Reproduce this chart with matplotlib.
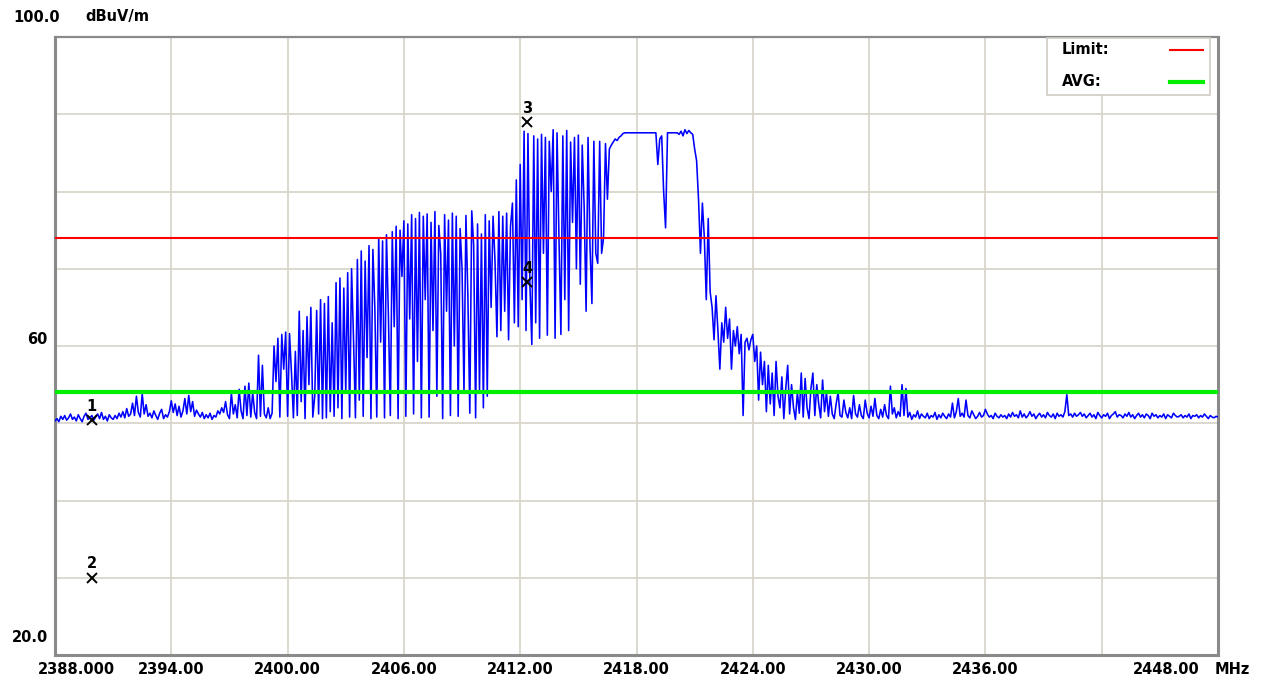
import numpy as np
import matplotlib
matplotlib.use("Agg")
import matplotlib.pyplot as plt
from matplotlib.transforms import ScaledTranslation

# ---------------- data ----------------
freq_start_mhz = 2388.0
freq_step_mhz = 0.1
level_dbuv = [
    50.3, 50.6, 50.2, 50.9, 50.5, 51.0, 50.4, 50.7, 51.2, 50.5,   # 2388
    50.8, 50.3, 51.1, 50.6, 50.2, 50.9, 51.3, 50.5, 50.7, 51.0,   # 2389
    50.4, 50.8, 51.2, 50.6, 51.4, 50.5, 50.9, 50.3, 51.1, 50.7,   # 2390
    50.5, 51.0, 50.6, 51.3, 50.8, 51.5, 50.7, 51.9, 50.9, 51.2,   # 2391
    52.6, 51.0, 53.5, 51.4, 50.8, 53.8, 51.2, 52.4, 50.9, 51.3,   # 2392
    50.7, 51.6, 51.0, 50.5, 51.3, 51.8, 50.6, 51.1, 50.8, 51.5,   # 2393
    52.9, 51.4, 52.5, 51.0, 52.2, 50.8, 51.6, 53.2, 51.2, 53.6,   # 2394
    51.5, 52.8, 50.9, 51.7, 51.2, 50.8, 51.4, 50.6, 51.1, 50.7,   # 2395
    51.3, 50.5, 51.0, 50.8, 51.6, 51.2, 52.0, 51.4, 52.8, 51.1,   # 2396
    50.6, 53.9, 51.2, 52.4, 50.7, 54.4, 51.6, 50.6, 54.8, 51.0,   # 2397
    55.2, 50.8, 54.0, 51.4, 50.6, 58.8, 50.9, 57.5, 51.2, 50.7,   # 2398
    52.0, 50.6, 51.3, 60.0, 55.4, 61.0, 50.8, 61.5, 57.0, 61.8,   # 2399
    50.9, 61.6, 56.5, 50.7, 59.3, 51.0, 64.5, 52.8, 62.0, 50.6,   # 2400
    63.8, 55.0, 65.0, 50.8, 53.5, 64.6, 51.2, 66.0, 50.6, 65.5,   # 2401
    50.7, 66.4, 51.5, 63.0, 50.9, 68.2, 52.0, 68.8, 50.6, 67.5,   # 2402
    54.0, 69.5, 50.8, 70.0, 61.0, 50.7, 71.2, 53.0, 72.3, 50.9,   # 2403
    71.0, 58.5, 73.0, 50.6, 72.5, 65.0, 50.8, 74.0, 60.5, 73.6,   # 2404
    50.7, 74.4, 64.0, 51.0, 74.8, 62.5, 75.5, 50.6, 75.0, 69.0,   # 2405
    76.2, 50.9, 75.8, 63.5, 77.0, 51.2, 76.5, 58.0, 77.3, 50.7,   # 2406
    76.8, 66.0, 77.1, 50.8, 76.0, 62.0, 77.4, 53.5, 75.6, 72.0,   # 2407
    50.6, 77.0, 64.5, 76.3, 51.0, 77.2, 60.0, 76.8, 50.9, 75.2,   # 2408
    70.0, 54.0, 76.9, 66.5, 51.3, 77.5, 73.0, 50.7, 75.8, 54.2,   # 2409
    74.5, 52.0, 77.0, 53.5, 76.2, 65.0, 76.8, 71.0, 61.2, 77.4,   # 2410
    62.0, 76.8, 64.5, 77.2, 60.8, 75.5, 78.5, 63.0, 81.5, 62.5,   # 2411
    83.5, 66.0, 87.8, 62.0, 87.5, 68.0, 60.2, 87.2, 63.0, 86.8,   # 2412
    61.0, 87.4, 72.0, 87.0, 61.4, 86.5, 80.0, 88.0, 61.0, 87.6,   # 2413
    74.0, 61.5, 87.2, 66.0, 87.9, 62.0, 86.4, 76.0, 87.0, 70.0,   # 2414
    87.3, 68.0, 86.0, 78.0, 64.5, 87.0, 73.0, 65.5, 86.5, 72.0,   # 2415
    70.7, 86.5, 72.0, 74.0, 86.2, 79.0, 85.5, 86.0, 86.4, 86.8,   # 2416
    86.6, 87.0, 87.2, 87.5, 87.6, 87.6, 87.6, 87.6, 87.6, 87.6,   # 2417
    87.6, 87.6, 87.6, 87.6, 87.6, 87.6, 87.6, 87.6, 87.6, 87.6,   # 2418
    87.6, 83.5, 86.8, 87.2, 80.0, 75.3, 87.6, 87.6, 87.6, 87.6,   # 2419
    87.6, 87.6, 87.4, 87.8, 87.2, 88.0, 87.5, 87.9, 87.6, 87.4,   # 2420
    85.5, 84.0, 79.0, 72.0, 78.5, 74.0, 66.0, 76.5, 67.0, 65.0,   # 2421
    60.8, 66.5, 62.0, 57.0, 63.0, 60.5, 65.0, 61.0, 63.5, 57.0,   # 2422
    62.0, 60.0, 62.5, 59.0, 61.5, 51.0, 60.5, 61.0, 59.5, 60.8,   # 2423
    61.5, 58.0, 60.0, 53.0, 59.2, 55.0, 58.0, 51.5, 57.5, 52.5,   # 2424
    56.5, 51.0, 58.0, 53.5, 52.0, 56.0, 50.6, 54.5, 57.5, 51.2,   # 2425
    55.0, 52.0, 50.5, 54.0, 51.3, 56.5, 50.8, 55.8, 52.0, 50.6,   # 2426
    54.5, 56.5, 51.0, 55.0, 52.5, 50.7, 55.6, 51.5, 54.0, 50.9,   # 2427
    53.5, 51.2, 50.6, 52.5, 54.0, 51.0, 50.8, 53.0, 51.4, 50.7,   # 2428
    52.0, 50.6, 53.6, 51.2, 50.8, 52.4, 51.0, 50.6, 53.0, 51.3,   # 2429
    50.7, 52.2, 50.9, 53.2, 51.0, 50.6, 51.8, 50.8, 52.4, 51.0,   # 2430
    50.6, 54.8, 51.2, 52.0, 50.7, 51.5, 50.9, 55.0, 51.0, 54.5,   # 2431
    50.8, 51.4, 50.5, 51.1, 50.8, 51.6, 50.6, 51.2, 50.9, 50.7,   # 2432
    51.3, 50.6, 51.0, 50.8, 51.4, 50.5, 51.1, 50.7, 51.3, 50.9,   # 2433
    50.6, 51.2, 50.8, 52.6, 50.7, 51.5, 53.2, 50.9, 51.3, 50.8,   # 2434
    53.0, 51.0, 50.7, 51.6, 51.1, 50.6, 50.9, 51.4, 50.8, 51.0,   # 2435
    51.8, 51.2, 50.8, 51.0, 50.6, 51.3, 50.9, 50.7, 51.1, 50.8,   # 2436
    51.0, 50.6, 51.2, 50.8, 51.4, 50.9, 51.1, 50.7, 51.6, 50.8,   # 2437
    51.2, 50.7, 51.0, 51.5, 50.9, 51.2, 50.6, 51.0, 51.3, 50.8,   # 2438
    51.1, 50.7, 51.4, 51.0, 50.8, 51.2, 50.6, 51.3, 50.9, 51.1,   # 2439
    50.8, 51.5, 53.7, 51.0, 51.2, 50.8, 51.3, 50.9, 51.1, 51.4,   # 2440
    50.9, 51.2, 50.7, 51.0, 51.3, 50.8, 51.1, 50.6, 51.4, 51.0,   # 2441
    50.7, 51.1, 50.9, 51.3, 50.6, 51.0, 51.2, 51.5, 50.8, 51.1,   # 2442
    51.0, 50.7, 51.2, 50.9, 51.4, 50.8, 51.1, 50.6, 51.0, 51.3,   # 2443
    50.8, 51.1, 50.7, 51.2, 51.0, 50.6, 51.3, 50.9, 51.1, 50.7,   # 2444
    51.0, 50.8, 51.2, 50.6, 51.1, 50.9, 50.7, 51.3, 51.0, 50.8,   # 2445
    50.9, 51.1, 50.7, 51.0, 50.8, 51.2, 50.6, 51.0, 50.9, 51.1,   # 2446
    50.7, 51.0, 50.8, 51.2, 50.9, 50.6, 51.0, 50.8, 50.7, 50.9,   # 2447
    50.8,                                                         # 2448
]

limit_dbuv = 74.0
avg_dbuv = 54.0

marker_ids = ["1", "2", "3", "4"]
marker_freq = [2389.9, 2389.9, 2412.35, 2412.35]
marker_level = [50.4, 30.0, 89.0, 68.3]

xtick_vals = [2388, 2394, 2400, 2406, 2412, 2418, 2424, 2430, 2436, 2442, 2448]
xtick_labels = ["2388.000", "2394.00", "2400.00", "2406.00", "2412.00", "2418.00",
                "2424.00", "2430.00", "2436.00", "", "2448.00"]
ytick_vals = [20, 30, 40, 50, 60, 70, 80, 90, 100]

# ---------------- plot ----------------
W, H = 1271, 687
fig = plt.figure(figsize=(W / 100, H / 100), dpi=100)
ax = fig.add_axes([55 / W, 1 - 655 / H, 1163 / W, 618 / H])

freq = freq_start_mhz + freq_step_mhz * np.arange(len(level_dbuv))
ax.plot(freq, level_dbuv, color="#0000ff", lw=1.15, zorder=3)

ax.axhline(limit_dbuv, color="#ff0000", lw=1.5, zorder=4)
ax.axhline(avg_dbuv, color="#00ee00", lw=3.0, zorder=4)

ax.set_xlim(2388, 2448)
ax.set_ylim(20, 100)
ax.set_xticks(xtick_vals)
ax.set_yticks(ytick_vals)
ax.set_xticklabels([])
ax.set_yticklabels([])
ax.tick_params(length=0)
ax.grid(True, color="#d9d5cd", lw=1.3, zorder=0)
for side, sp in ax.spines.items():
    sp.set_color("#8a8a8a")
    sp.set_linewidth(2.2 if side != "top" else 1.6)

# x tick labels
font = dict(fontsize=10.5, family="DejaVu Sans", fontweight="bold", color="black")
xt = ax.get_xaxis_transform()
dy = -15 / 100
for i, (v, lab) in enumerate(zip(xtick_vals, xtick_labels)):
    if not lab:
        continue
    if i == 0:
        tr = xt + ScaledTranslation(-17 / 100, dy, fig.dpi_scale_trans)
        ax.text(v, 0, lab, transform=tr, ha="left", va="center", **font)
    elif i == len(xtick_vals) - 1:
        tr = xt + ScaledTranslation(-18 / 100, dy, fig.dpi_scale_trans)
        ax.text(v, 0, lab, transform=tr, ha="right", va="center", **font)
    else:
        tr = xt + ScaledTranslation(0, dy, fig.dpi_scale_trans)
        ax.text(v, 0, lab, transform=tr, ha="center", va="center", **font)
fig.text(1215 / W, 1 - 670 / H, "MHz", ha="left", va="center", **font)

# y labels
fig.text(60 / W, 1 - 17 / H, "100.0", ha="right", va="center", **font)
fig.text(85 / W, 1 - 17 / H, "dBuV/m", ha="left", va="center", **font)
fig.text(47 / W, 1 - 340 / H, "60", ha="right", va="center", **font)
fig.text(48 / W, 1 - 638 / H, "20.0", ha="right", va="center", **font)

# markers
for mid, mf, ml in zip(marker_ids, marker_freq, marker_level):
    ax.plot(mf, ml, marker="x", ms=7, mew=1.4, color="black", zorder=6)
    ax.annotate(mid, (mf, ml), xytext=(0, 4.5), textcoords="offset points",
                ha="center", va="bottom", fontsize=10.5, fontweight="bold",
                color="black", zorder=6)

# legend box
lx0, ly0, lx1, ly1 = 1047, 38, 1210, 95
box = plt.Rectangle((lx0 / W, 1 - ly1 / H), (lx1 - lx0) / W, (ly1 - ly0) / H,
                    transform=fig.transFigure, facecolor="white",
                    edgecolor="#cfcbc3", lw=1.2, zorder=10)
fig.patches.append(box)
fig.text(1062 / W, 1 - 50 / H, "Limit:", ha="left", va="center", zorder=11, **font)
fig.text(1062 / W, 1 - 82 / H, "AVG:", ha="left", va="center", zorder=11, **font)
fig.add_artist(plt.Line2D([1170 / W, 1203 / W], [1 - 50 / H, 1 - 50 / H],
                          color="#ff0000", lw=1.5, zorder=11))
fig.add_artist(plt.Line2D([1170 / W, 1203 / W], [1 - 82 / H, 1 - 82 / H],
                          color="#00ee00", lw=3.0, zorder=11))

fig.savefig("out.png", dpi=100)
